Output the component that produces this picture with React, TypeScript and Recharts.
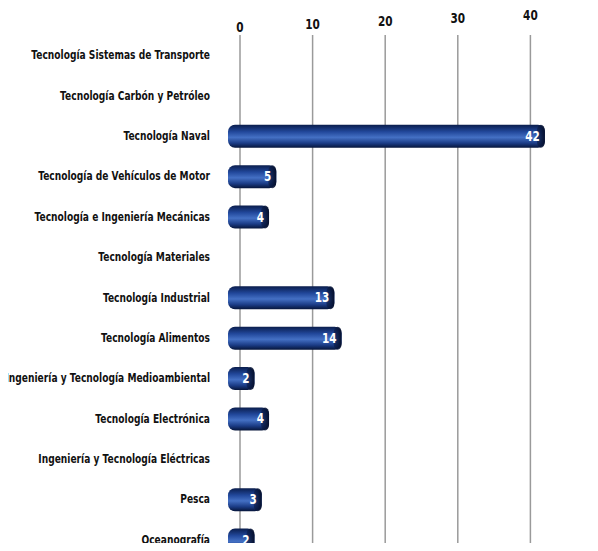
import React from 'react';
import { BarChart, Bar, XAxis, YAxis, CartesianGrid, LabelList } from 'recharts';

const categories = [
  'Tecnología Sistemas de Transporte',
  'Tecnología Carbón y Petróleo',
  'Tecnología Naval',
  'Tecnología de Vehículos de Motor',
  'Tecnología e Ingeniería Mecánicas',
  'Tecnología Materiales',
  'Tecnología Industrial',
  'Tecnología Alimentos',
  'Ingeniería y Tecnología Medioambiental',
  'Tecnología Electrónica',
  'Ingeniería y Tecnología Eléctricas',
  'Pesca',
  'Oceanografía',
];
const values = [0, 0, 42, 5, 4, 0, 13, 14, 2, 4, 0, 3, 2];
const xTicks = [0, 10, 20, 30, 40, 50];

const data = categories.map((name, i) => ({ name, value: values[i] || null }));

const FONT = "'DejaVu Sans', sans-serif";

// condensed look: bold text squeezed horizontally
function Narrow({ x, y, anchor, size, fill, squeeze = 0.7, children }: any) {
  return (
    <text
      transform={`translate(${x},${y}) scale(${squeeze},1)`}
      textAnchor={anchor}
      dominantBaseline="central"
      fontFamily={FONT}
      fontWeight="bold"
      fontSize={size}
      fill={fill}
    >
      {children}
    </text>
  );
}

function TubeBar(props: any) {
  const { x, y, width, height } = props;
  if (!width || width <= 0) return null;
  const left = x - 12;
  const w = width + 12;
  return (
    <g>
      <rect x={left} y={y} width={w} height={height} rx={7} ry={7} fill="url(#tube)" />
      <rect x={left + w - 8} y={y} width={8} height={height} rx={4} ry={6} fill="url(#cap)" />
    </g>
  );
}

function TopTick(props: any) {
  const { x, payload } = props;
  const rise = (x - 240) * 0.038;
  return (
    <Narrow x={x} y={27 - rise} anchor="middle" size={14} fill="#111" squeeze={0.75}>
      {payload.value}
    </Narrow>
  );
}

function CatTick(props: any) {
  const { x, y, payload } = props;
  return (
    <Narrow x={x} y={y} anchor="end" size={13} fill="#111">
      {payload.value}
    </Narrow>
  );
}

function BarValue(props: any) {
  const { x, y, width, height, value } = props;
  if (!value) return null;
  return (
    <Narrow x={x + width - 5} y={y + height / 2} anchor="end" size={14} fill="#fff" squeeze={0.75}>
      {value}
    </Narrow>
  );
}

export default function App() {
  return (
    <div style={{ margin: -8, width: 598, height: 551, overflow: 'hidden', background: '#fff' }}>
      <BarChart
        width={603}
        height={560}
        data={data}
        layout="vertical"
        margin={{ top: 0, right: 0, bottom: 0, left: 0 }}
        barSize={23}
      >
        <defs>
          <linearGradient id="tube" x1="0" y1="0" x2="0" y2="1">
            <stop offset="0%" stopColor="#0a1d4c" />
            <stop offset="30%" stopColor="#21479a" />
            <stop offset="55%" stopColor="#4470c4" />
            <stop offset="80%" stopColor="#1b3c86" />
            <stop offset="100%" stopColor="#06153a" />
          </linearGradient>
          <linearGradient id="cap" x1="0" y1="0" x2="1" y2="0">
            <stop offset="0%" stopColor="#0a1b45" stopOpacity={0.6} />
            <stop offset="100%" stopColor="#050f2c" />
          </linearGradient>
        </defs>
        <CartesianGrid horizontal={false} vertical stroke="#9a9a9a" strokeWidth={1.5} />
        <XAxis
          type="number"
          orientation="top"
          domain={[0, 50]}
          ticks={xTicks}
          height={35}
          tick={<TopTick />}
          tickLine={false}
          axisLine={false}
          interval={0}
        />
        <YAxis
          type="category"
          dataKey="name"
          width={240}
          tickLine={false}
          axisLine={false}
          interval={0}
          tickMargin={24}
          tick={<CatTick />}
        />
        <Bar dataKey="value" shape={<TubeBar />} isAnimationActive={false}>
          <LabelList dataKey="value" content={<BarValue />} />
        </Bar>
      </BarChart>
    </div>
  );
}
